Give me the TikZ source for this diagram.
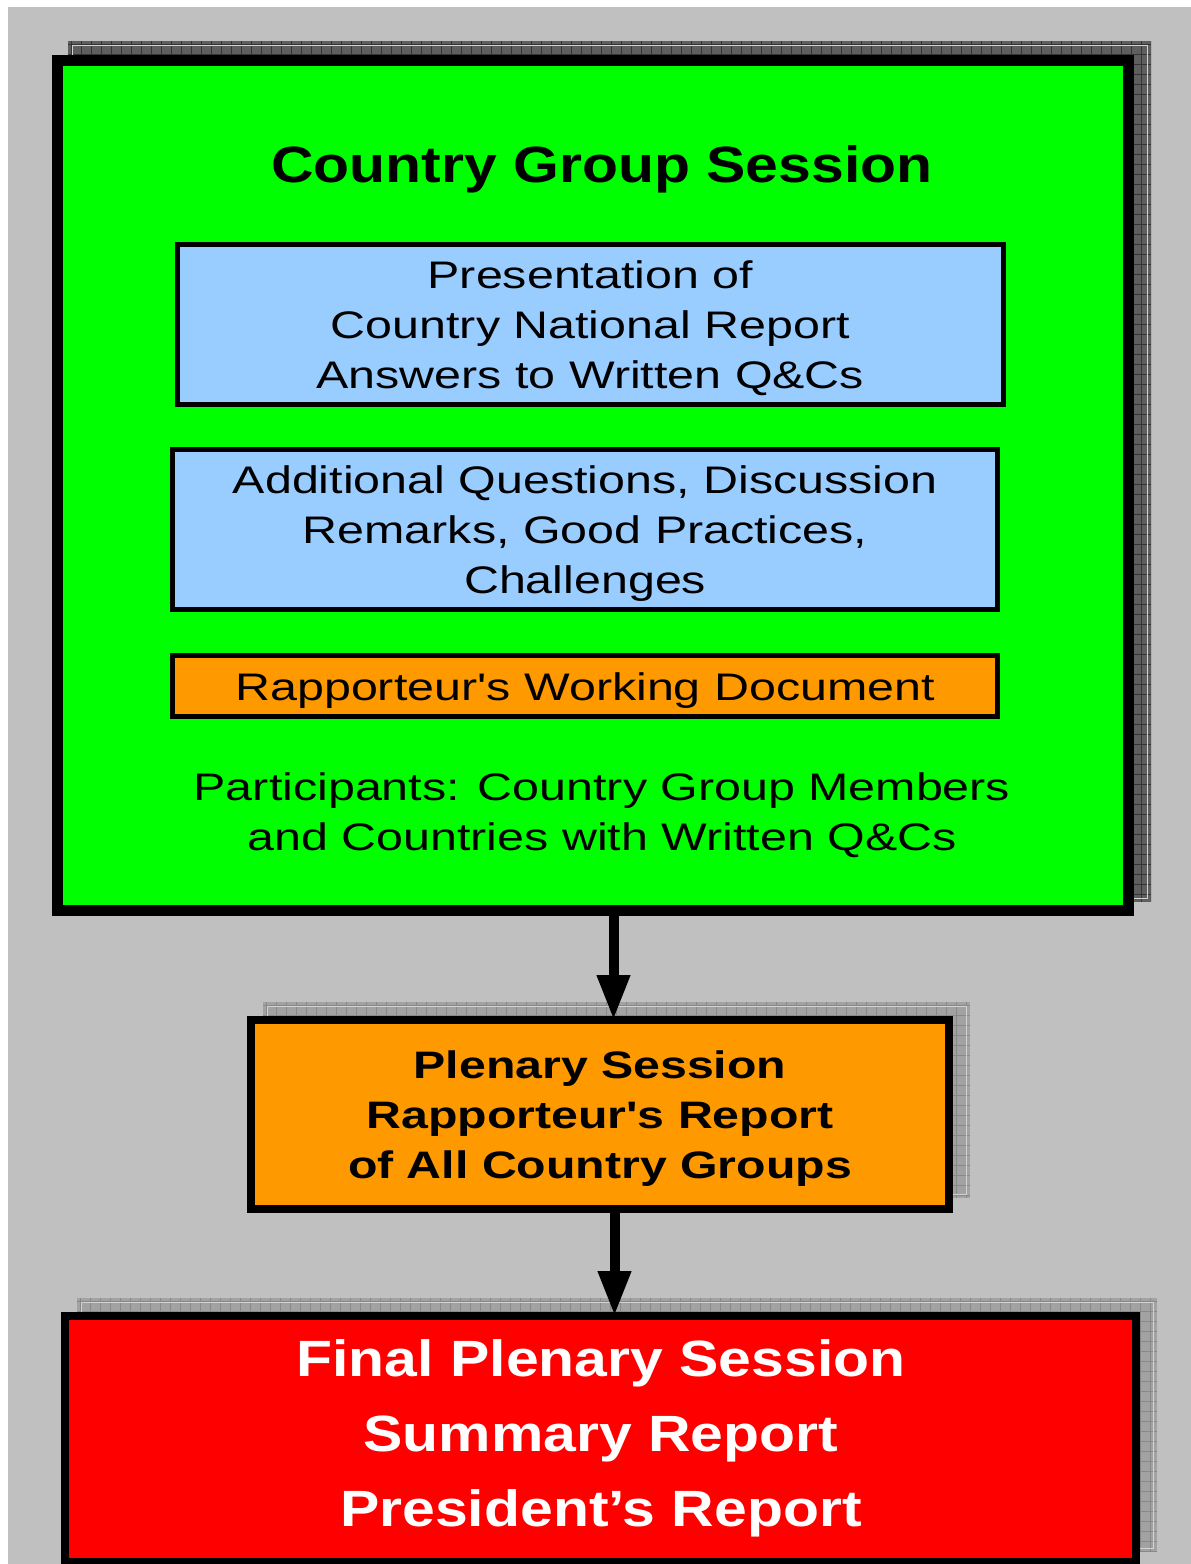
\documentclass[tikz,border=0pt]{standalone}
\usepackage{fontspec}
\setmainfont{Liberation Sans}
\newfontfamily\bodyfont[FakeStretch=1.26,Ligatures=TeXOff]{Liberation Sans}
\newfontfamily\headfont[FakeStretch=1.155]{Liberation Sans}
\usetikzlibrary{arrows.meta}
\definecolor{bggray}{HTML}{C0C0C0}
\definecolor{boxgreen}{HTML}{00FF00}
\definecolor{boxblue}{HTML}{99CCFF}
\definecolor{boxorange}{HTML}{FF9900}
\definecolor{boxred}{HTML}{FF0000}
\definecolor{shdark}{HTML}{5E5E5E}
\definecolor{shdarkgrid}{HTML}{343434}
\definecolor{shlight}{HTML}{A2A2A2}
\definecolor{shlightgrid}{HTML}{888888}
\definecolor{shinset}{HTML}{D2D2D2}
\newcommand{\bodystrut}{\rule[-10.4pt]{0pt}{48.4pt}}
\newcommand{\headstrut}{\rule[-13.5pt]{0pt}{63.5pt}}
% #1 x1, #2 y1, #3 x2, #4 y2, #5 fill colour, #6 grid colour
\newcommand{\gridshadow}[6]{%
  \begin{scope}
    \clip (#1,#2) rectangle (#3,#4);
    \fill[#5] (#1,#2) rectangle (#3,#4);
    \foreach \gi in {0,...,112} {\draw[#6,line width=0.9] ({#1+3+10*\gi},#2) -- ({#1+3+10*\gi},#4);}
    \foreach \gi in {0,...,90} {\draw[#6,line width=0.9] (#1,{#2+3+10*\gi}) -- (#3,{#2+3+10*\gi});}
    \draw[shinset,line width=0.8] ({#1+4},{#2+4}) rectangle ({#3-4},{#4-4});
  \end{scope}}
\begin{document}
\begin{tikzpicture}[x=1pt,y=-1pt,
  boxbase/.style={draw=black,rectangle,inner sep=0pt,outer sep=0pt,align=center},
  mainbox/.style={boxbase,fill=boxgreen,line width=11pt},
  bluebox/.style={boxbase,fill=boxblue,line width=5pt,font=\bodyfont\fontsize{38.4}{50}\selectfont},
  orangebox/.style={boxbase,fill=boxorange,line width=5pt,font=\bodyfont\fontsize{38.4}{50}\selectfont},
  plenbox/.style={boxbase,fill=boxorange,line width=8pt,font=\bodyfont\bfseries\fontsize{38.3}{50}\selectfont},
  finalbox/.style={boxbase,fill=boxred,line width=8pt},
  titletext/.style={inner sep=0pt,align=center,font=\headfont\bfseries\fontsize{51}{75}\selectfont},
  bodytext/.style={inner sep=0pt,align=center,font=\bodyfont\fontsize{38.4}{50}\selectfont},
  finaltext/.style={inner sep=0pt,align=center,text=white,font=\headfont\bfseries\fontsize{51}{75}\selectfont},
  flowarrow/.style={draw=black,line width=10pt,-{Triangle[width=31pt,length=45pt]}}
]
\useasboundingbox (0,0) rectangle (1191,1564);
\fill[white] (0,0) rectangle (1191,1564);
\fill[bggray] (8,7) rectangle (1191,1564);

% shadows
\gridshadow{68}{41}{1151}{902}{shdark}{shdarkgrid}
\gridshadow{263}{1002}{970}{1198}{shlight}{shlightgrid}
\gridshadow{77}{1298}{1157}{1552}{shlight}{shlightgrid}

% main country group box
\node[mainbox,minimum width=1071,minimum height=850] (main) at (593,485.5) {};
\node[titletext] (title) at (602,164) {\headstrut Country Group Session};
\node[bluebox,minimum width=825.7,minimum height=160] (pres) at (590.35,324.2)
  {\bodystrut Presentation of\\\bodystrut Country National Report\\\bodystrut Answers to Written Q\&Cs};
\node[bluebox,minimum width=825.3,minimum height=160] (disc) at (585.15,529.2)
  {\bodystrut Additional Questions, Discussion\\\bodystrut Remarks, Good Practices,\\\bodystrut Challenges};
\node[orangebox,minimum width=825.3,minimum height=61] (rapdoc) at (585.15,686.3)
  {\bodystrut Rapporteur's Working Document};
\node[bodytext] (part) at (602,811.5)
  {\bodystrut Participants: Country Group Members\\\bodystrut and Countries with Written Q\&Cs};

% plenary session
\node[plenbox,minimum width=698,minimum height=189] (plen) at (600,1114.5)
  {\bodystrut Plenary Session\\\bodystrut Rapporteur's Report\\\bodystrut of All Country Groups};

% final plenary session
\node[finalbox,minimum width=1071,minimum height=246] (final) at (600.5,1439) {};
\node[finaltext] (finaltxt) at (601,1433)
  {\headstrut Final Plenary Session\\\headstrut Summary Report\\\headstrut President’s Report};

% arrows
\coordinate (ax1) at (613.5,0);
\coordinate (ax2) at (614.5,0);
\draw[flowarrow] (ax1 |- main.south) -- (ax1 |- plen.north);
\draw[flowarrow] (ax2 |- plen.south) -- (ax2 |- final.north);
\end{tikzpicture}
\end{document}
